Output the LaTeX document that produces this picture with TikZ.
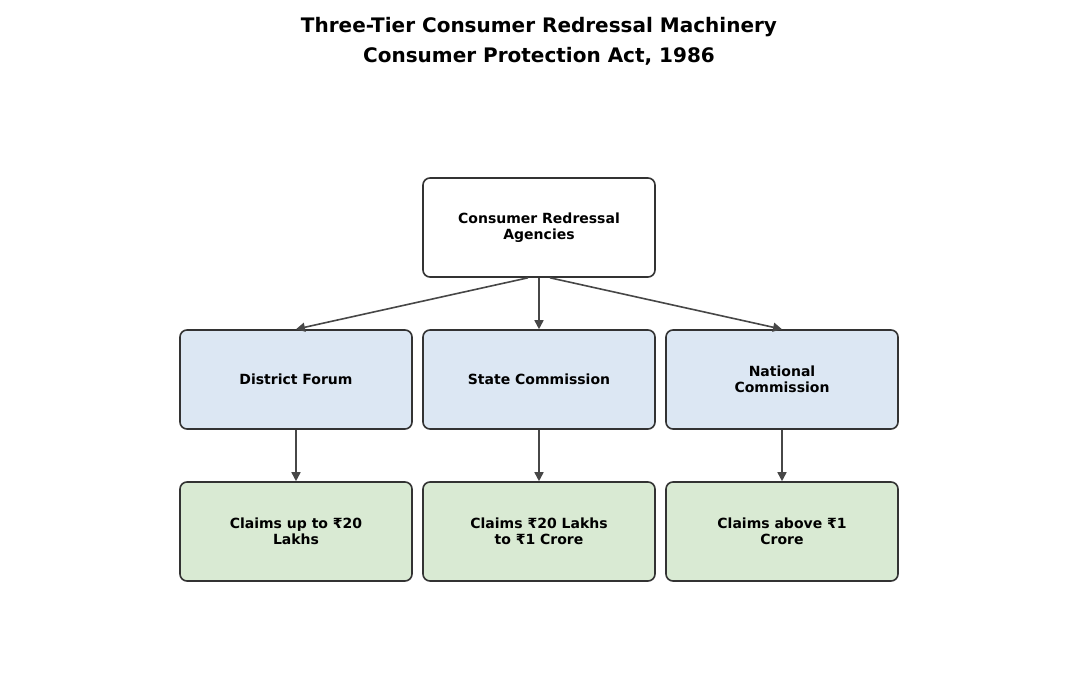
\documentclass[tikz,border=0pt]{standalone}
\usepackage{fontspec}
\setmainfont{DejaVu Sans}
\usetikzlibrary{arrows.meta}
\definecolor{bluef}{HTML}{DCE7F3}
\definecolor{greenf}{HTML}{D9EAD3}
\begin{document}
\begin{tikzpicture}[x=1pt,y=-1pt,
  box/.style={draw=black!80,line width=1.6pt,rounded corners=7pt,minimum width=232pt,minimum height=99pt,align=center,font=\fontsize{14}{16}\selectfont\bfseries,inner sep=2pt},
  conn/.style={draw=black!72,line width=1.6pt,-{Triangle[length=9pt,width=9pt]}}]
\useasboundingbox (0,0) rectangle (1078,699);
\node[font=\fontsize{20}{30}\selectfont\bfseries,align=center] (title) at (539,41) {Three-Tier Consumer Redressal Machinery\\Consumer Protection Act, 1986};
\node[box,fill=white] (top) at (539,227.5) {Consumer Redressal\\Agencies};
\node[box,fill=bluef] (df) at (296,379.5) {District Forum};
\node[box,fill=bluef] (sc) at (539,379.5) {State Commission};
\node[box,fill=bluef] (nc) at (782,379.5) {National\\Commission};
\node[box,fill=greenf] (c1) at (296,531.5) {Claims up to ₹20\\Lakhs};
\node[box,fill=greenf] (c2) at (539,531.5) {Claims ₹20 Lakhs\\to ₹1 Crore};
\node[box,fill=greenf] (c3) at (782,531.5) {Claims above ₹1\\Crore};
\draw[conn] ([xshift=-11pt]top.south) -- (df.north);
\draw[conn] (top.south) -- (sc.north);
\draw[conn] ([xshift=11pt]top.south) -- (nc.north);
\draw[conn] (df.south) -- (c1.north);
\draw[conn] (sc.south) -- (c2.north);
\draw[conn] (nc.south) -- (c3.north);
\end{tikzpicture}
\end{document}
